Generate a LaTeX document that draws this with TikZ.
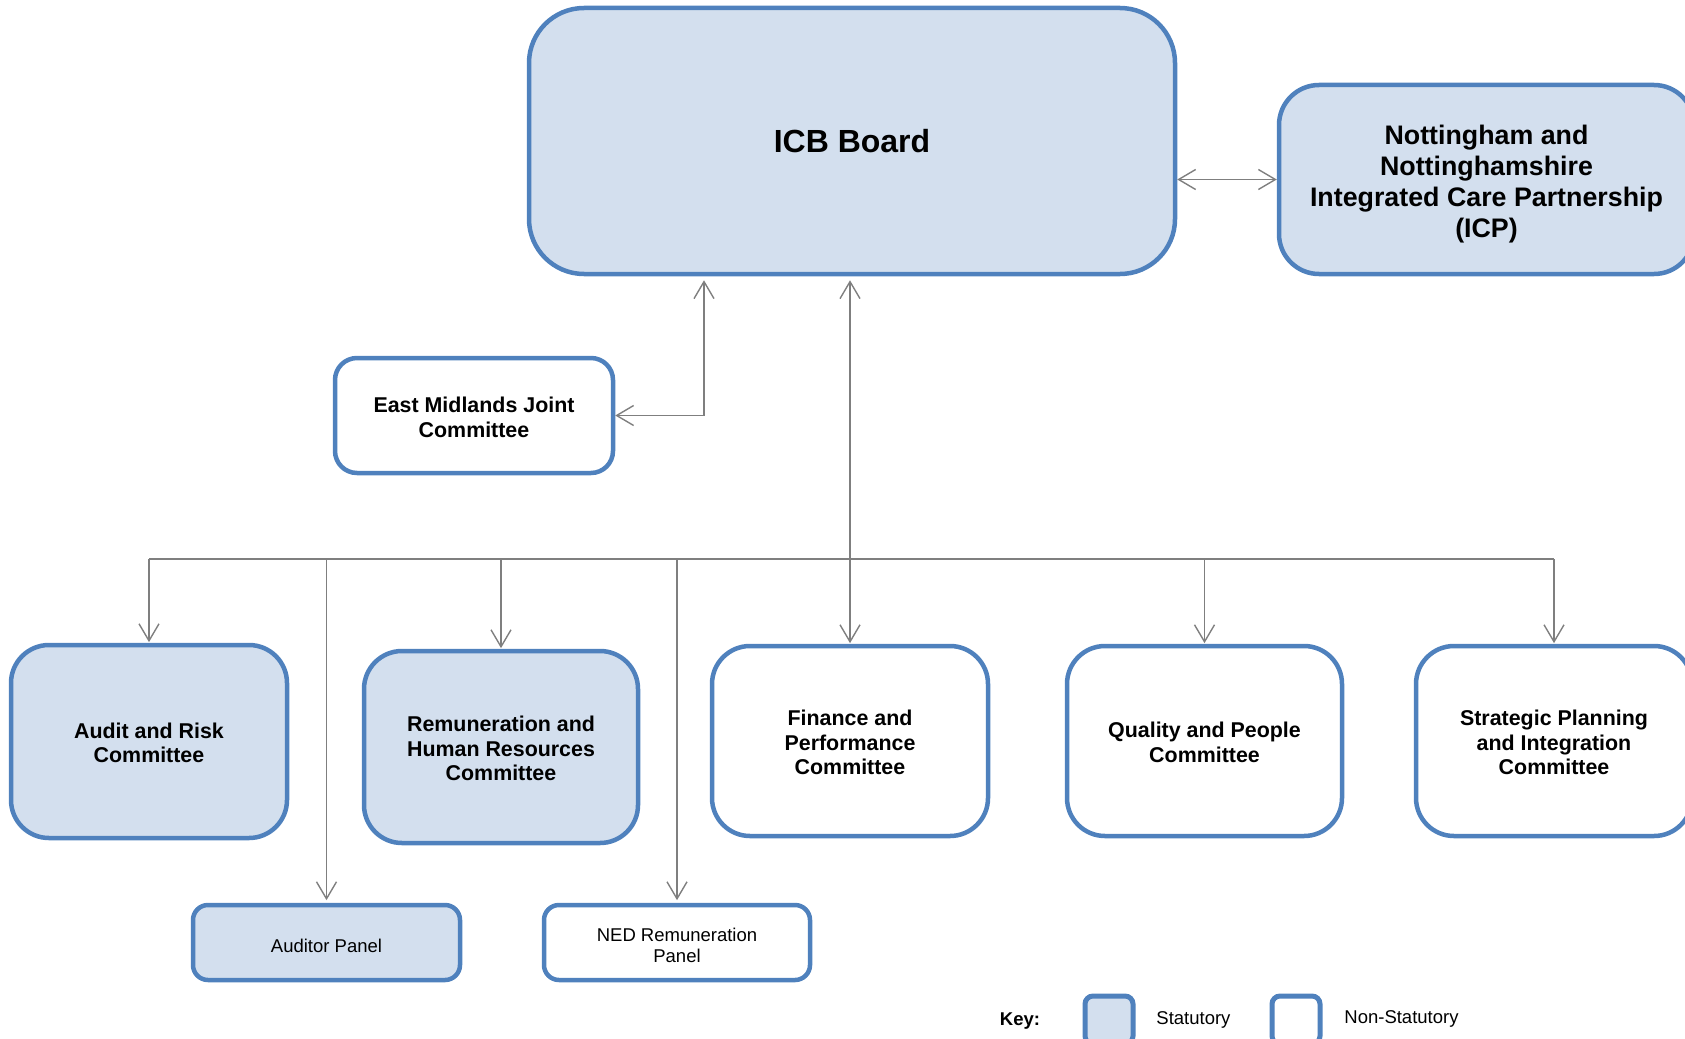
\documentclass[tikz,border=0pt]{standalone}
\usepackage{fontspec}
\setmainfont{Liberation Sans}
\usetikzlibrary{arrows.meta}
\definecolor{bordblue}{HTML}{4F81BD}
\definecolor{statfill}{HTML}{D3DFEE}
\definecolor{conngray}{HTML}{7F7F7F}
\newcommand\mytopgap[1]{\rule{0pt}{#1}}
\begin{document}
\begin{tikzpicture}[x=0.5pt,y=-0.5pt,
  box/.style={draw=bordblue, line width=2.25pt, align=center, inner sep=0pt,
    font=\bfseries\fontsize{10.7}{12.25}\selectfont},
  stat/.style={box, fill=statfill},
  nonstat/.style={box, fill=white},
  comm/.style={minimum width=138pt, minimum height=95pt, rounded corners=19pt},
  panel/.style={minimum width=133.5pt, minimum height=37.5pt, rounded corners=7.5pt,
    font=\fontsize{9.25}{10.5}\selectfont},
  keybox/.style={draw=bordblue, line width=2.5pt, minimum width=24pt, minimum height=24pt,
    rounded corners=4pt, inner sep=0pt},
  keytext/.style={font=\fontsize{9.25}{10.5}\selectfont, inner sep=0pt},
  conn/.style={draw=conngray, line width=0.7pt},
  arr/.style={conn, -{Straight Barb[length=8.5pt,width=10pt]}},
  biarr/.style={conn, {Straight Barb[length=8.5pt,width=10pt]}-{Straight Barb[length=8.5pt,width=10pt]}},
]
\useasboundingbox (0,0) rectangle (1685,1038);

% top level
\node[stat, minimum width=323pt, minimum height=133pt, rounded corners=27.5pt,
  font=\bfseries\fontsize{16}{19}\selectfont] (ICB) at (852,141) {ICB Board};
\node[stat, minimum width=207.5pt, minimum height=94.5pt, rounded corners=20pt,
  font=\bfseries\fontsize{13.4}{15.5}\selectfont] (ICP) at (1486.5,179.5)
  {\mytopgap{14pt}Nottingham and\\Nottinghamshire\\Integrated Care Partnership\\(ICP)};
\node[nonstat, minimum width=139pt, minimum height=57.5pt, rounded corners=11pt] (EMJ)
  at (474,415.5) {\mytopgap{9.8pt}East Midlands Joint\\Committee};

% committees
\node[stat, comm, minimum height=96.5pt] (Aud) at (149,741.5) {\mytopgap{9.3pt}Audit and Risk\\Committee};
\node[stat, comm, minimum width=137pt, minimum height=96pt] (Rem) at (501,747)
  {\mytopgap{9.3pt}Remuneration and\\Human Resources\\Committee};
\node[nonstat, comm] (Fin) at (850,741) {\mytopgap{9.3pt}Finance and\\Performance\\Committee};
\node[nonstat, comm, minimum width=137.5pt] (Qual) at (1204.5,741) {\mytopgap{9.3pt}Quality and People\\Committee};
\node[nonstat, comm] (Str) at (1554,741) {\mytopgap{9.3pt}Strategic Planning\\and Integration\\Committee};

% panels
\node[stat, panel] (AudP) at (326.5,942.5) {\mytopgap{10pt}Auditor Panel};
\node[nonstat, panel, minimum width=133pt] (NED) at (677,942.5) {\mytopgap{10pt}NED Remuneration\\Panel};

% connectors
\draw[biarr] (ICP.west -| ICB.east) -- (ICP.west);
\coordinate (ej) at (704,415.5);
\draw[biarr, shorten <=2pt] (ICB.south -| ej) -- (ej) -- (EMJ.east);
\draw[biarr, shorten <=2pt, shorten >=0.3pt] (ICB.south -| Fin.north) -- (Fin.north);

\coordinate (bus) at (0,559);
\draw[conn] (Aud.north |- bus) -- (Str.north |- bus);
\foreach \n in {Aud,Rem,Qual,Str}
  \draw[arr, shorten >=0.3pt] (\n.north |- bus) -- (\n.north);
\foreach \n in {AudP,NED}
  \draw[arr, shorten >=1.3pt] (\n.north |- bus) -- (\n.north);

% key
\node[keytext, font=\bfseries\fontsize{9.25}{10.5}\selectfont] (key) at (1020,1021) {Key:};
\node[keybox, fill=statfill] (ks) at (1109,1020) {};
\node[keytext, anchor=west] (kst) at (1156,1020) {Statutory};
\node[keybox, fill=white] (kn) at (1296,1020) {};
\node[keytext, anchor=west] (knt) at (1344,1019) {Non-Statutory};
\end{tikzpicture}
\end{document}
